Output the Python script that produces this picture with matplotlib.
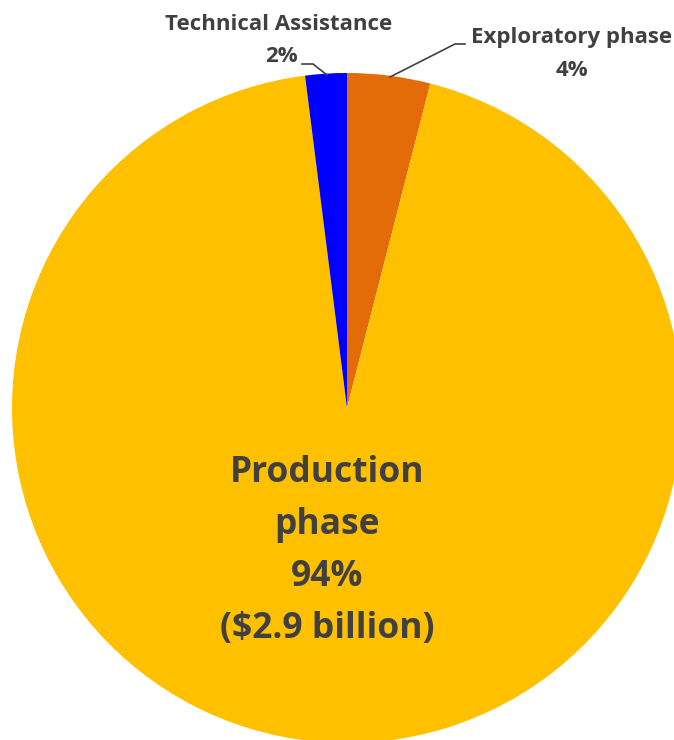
import matplotlib
matplotlib.use("Agg")
import matplotlib.pyplot as plt

categories = ["Exploratory phase", "Production phase", "Technical Assistance"]
shares = [4, 94, 2]
colors = ["#E36C09", "#FFC000", "#0000FF"]

W, H = 674, 740
CX, CY, R = 347, 408, 335

def px(x, y):
    return (x - CX) / R, (CY - y) / R

fig = plt.figure(figsize=(W / 100, H / 100), dpi=100)
ax = fig.add_axes([0, 0, 1, 1])
ax.pie(shares, colors=colors, startangle=90, counterclock=False, radius=1,
       wedgeprops=dict(linewidth=0))
x0, y0 = px(0, H)
x1, y1 = px(W, 0)
ax.set_xlim(x0, x1)
ax.set_ylim(y0, y1)
ax.set_aspect("equal")
ax.axis("off")

tc = "#404040"
font = "Open Sans"
small = 16
big = 25.5

# Production label
ax.text(*px(327, 551), "Production\nphase\n94%\n($2.9 billion)", ha="center", va="center",
        fontsize=big, fontweight="bold", color=tc, family=font, linespacing=1.6)

# Technical assistance
ax.text(*px(279, 24), categories[2], ha="center", va="center", fontsize=small,
        fontweight="bold", color=tc, family=font)
ax.text(*px(281, 57), f"{shares[2]}%", ha="center", va="center", fontsize=small,
        fontweight="bold", color=tc, family=font)
xs, ys = zip(px(302, 64), px(313, 64), px(327, 75))
ax.plot(xs, ys, color=tc, lw=1.2)

# Exploratory
ax.text(*px(572, 38), categories[0], ha="center", va="center", fontsize=small,
        fontweight="bold", color=tc, family=font)
ax.text(*px(572, 71), f"{shares[0]}%", ha="center", va="center", fontsize=small,
        fontweight="bold", color=tc, family=font)
xs, ys = zip(px(465, 44), px(455, 44), px(390, 77))
ax.plot(xs, ys, color=tc, lw=1.2)

fig.savefig("out.png", dpi=100)
